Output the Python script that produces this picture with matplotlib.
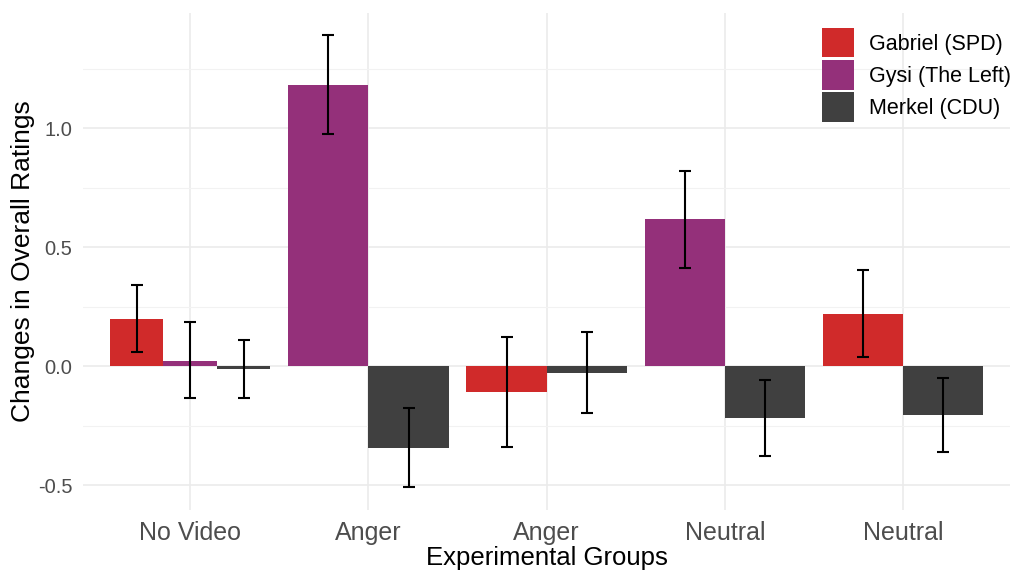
import numpy as np
import matplotlib
matplotlib.use("Agg")
import matplotlib.pyplot as plt
from matplotlib.patches import Patch
from matplotlib.ticker import MultipleLocator

plt.rcParams['font.family'] = ['Liberation Sans', 'DejaVu Sans']

groups = ["No Video", "Anger", "Anger", "Neutral", "Neutral"]
series = ["Gabriel (SPD)", "Gysi (The Left)", "Merkel (CDU)"]
colors = ["#D02A2A", "#94307A", "#404040"]

# nan = candidate not shown in that group
means = {
    "Gabriel (SPD)": [0.197, np.nan, -0.11, np.nan, 0.218],
    "Gysi (The Left)": [0.02, 1.18, np.nan, 0.618, np.nan],
    "Merkel (CDU)": [-0.01, -0.345, -0.03, -0.216, -0.207],
}
lower = {
    "Gabriel (SPD)": [0.059, np.nan, -0.34, np.nan, 0.038],
    "Gysi (The Left)": [-0.132, 0.975, np.nan, 0.412, np.nan],
    "Merkel (CDU)": [-0.132, -0.508, -0.197, -0.378, -0.361],
}
upper = {
    "Gabriel (SPD)": [0.34, np.nan, 0.122, np.nan, 0.403],
    "Gysi (The Left)": [0.185, 1.39, np.nan, 0.819, np.nan],
    "Merkel (CDU)": [0.11, -0.176, 0.143, -0.059, -0.05],
}

fig = plt.figure(figsize=(10.16, 5.74), dpi=100)
ax = fig.add_axes([0.082, 0.112, 0.912, 0.866])

total = 0.9
for gi in range(len(groups)):
    present = [s for s in series if not np.isnan(means[s][gi])]
    w = total / len(present)
    for k, s in enumerate(present):
        x = gi + 1 - total / 2 + w * (k + 0.5)
        m = means[s][gi]
        ax.bar(x, m, width=w, color=colors[series.index(s)], zorder=2)
        ax.errorbar(x, m, yerr=[[m - lower[s][gi]], [upper[s][gi] - m]],
                    color="black", lw=1.5, capsize=4.5, capthick=1.5, zorder=3)

ax.set_xlim(0.4, 5.6)
ax.set_ylim(-0.603, 1.485)
ax.set_xticks(range(1, len(groups) + 1))
ax.set_xticklabels(groups)
ax.yaxis.set_major_locator(MultipleLocator(0.5))
ax.yaxis.set_minor_locator(MultipleLocator(0.25))
ax.set_yticks([-0.5, 0.0, 0.5, 1.0])
ax.set_yticklabels(["-0.5", "0.0", "0.5", "1.0"])

ax.grid(True, which="major", color="#EBEBEB", lw=1.2, zorder=0)
ax.grid(True, which="minor", axis="y", color="#F2F2F2", lw=0.8, zorder=0)
ax.set_axisbelow(True)
for sp in ax.spines.values():
    sp.set_visible(False)
ax.tick_params(axis="both", which="both", length=0)
ax.tick_params(axis="x", labelsize=18, colors="#4D4D4D", pad=8)
ax.tick_params(axis="y", labelsize=14.5, colors="#4D4D4D", pad=8)

ax.set_xlabel("Experimental Groups", fontsize=18.5, labelpad=1)
ax.set_ylabel("Changes in Overall Ratings", fontsize=19, labelpad=2)

handles = [Patch(facecolor=c, label=s) for s, c in zip(series, colors)]
ax.legend(handles=handles, loc="upper right", bbox_to_anchor=(1.017, 1.0),
          frameon=False, fontsize=15.5, handlelength=1.45, handleheight=1.75,
          labelspacing=0.12, handletextpad=0.7, borderaxespad=0.3)

fig.savefig("out.png", dpi=100)
